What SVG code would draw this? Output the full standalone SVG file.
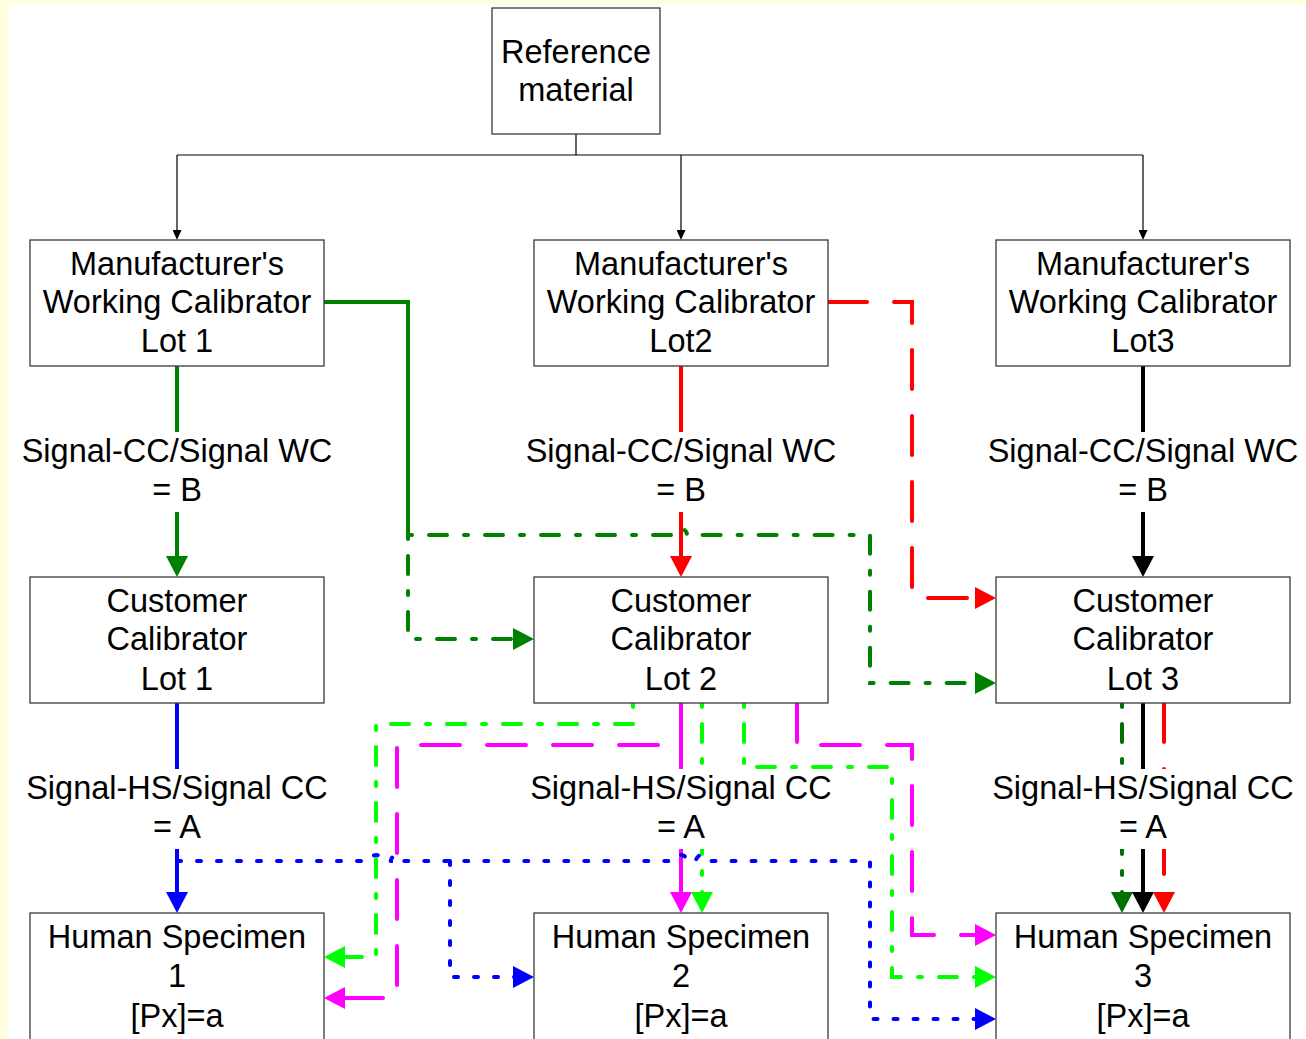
<svg xmlns="http://www.w3.org/2000/svg" width="1306" height="1039" viewBox="0 0 1306 1039">
<defs>
<style>
.box{fill:#fff;stroke:#3a3a3a;stroke-width:1.3}
.t{font-family:"Liberation Sans",Arial,sans-serif;font-size:32.5px;fill:#000;text-anchor:middle}
.lbg{fill:#fff}
.c{fill:none;stroke-width:4}
.thin{fill:none;stroke:#000;stroke-width:1.2}
.dd{stroke-dasharray:4 17 18 17;stroke-linecap:round}
.ld{stroke-dasharray:39 27;stroke-linecap:round}
.dot{stroke-dasharray:4 16;stroke-linecap:round}
.g{stroke:#008000}
.dg{stroke:#007000}
.r{stroke:#ff0000}
.k{stroke:#000}
.b{stroke:#0000ff}
.m{stroke:#ff00ff}
.l{stroke:#00ff00}
</style>
<marker id="aS" markerUnits="userSpaceOnUse" markerWidth="10" markerHeight="9" refX="5" refY="4.5" orient="auto"><path d="M0,0 L10,4.5 L0,9 z" fill="#000"/></marker>
<marker id="aG" markerUnits="userSpaceOnUse" markerWidth="21" markerHeight="22" refX="11" refY="11" orient="auto"><path d="M0,0 L21,11 L0,22 z" fill="#008000"/></marker>
<marker id="aDG" markerUnits="userSpaceOnUse" markerWidth="21" markerHeight="22" refX="11" refY="11" orient="auto"><path d="M0,0 L21,11 L0,22 z" fill="#007000"/></marker>
<marker id="aR" markerUnits="userSpaceOnUse" markerWidth="21" markerHeight="22" refX="11" refY="11" orient="auto"><path d="M0,0 L21,11 L0,22 z" fill="#ff0000"/></marker>
<marker id="aK" markerUnits="userSpaceOnUse" markerWidth="21" markerHeight="22" refX="11" refY="11" orient="auto"><path d="M0,0 L21,11 L0,22 z" fill="#000"/></marker>
<marker id="aB" markerUnits="userSpaceOnUse" markerWidth="21" markerHeight="22" refX="11" refY="11" orient="auto"><path d="M0,0 L21,11 L0,22 z" fill="#0000ff"/></marker>
<marker id="aM" markerUnits="userSpaceOnUse" markerWidth="21" markerHeight="22" refX="11" refY="11" orient="auto"><path d="M0,0 L21,11 L0,22 z" fill="#ff00ff"/></marker>
<marker id="aL" markerUnits="userSpaceOnUse" markerWidth="21" markerHeight="22" refX="11" refY="11" orient="auto"><path d="M0,0 L21,11 L0,22 z" fill="#00ff00"/></marker>
</defs>
<rect x="0" y="0" width="1306" height="1039" fill="#ffffe0"/>
<rect x="8" y="5" width="1298" height="1034" fill="#fff"/>

<g id="connectors">
  <!-- reference to manufacturer's calibrators -->
  <path class="thin" d="M576,134 V155 M177,155 H1143"/>
  <path class="thin" d="M177,155 V235" marker-end="url(#aS)"/>
  <path class="thin" d="M681,155 V235" marker-end="url(#aS)"/>
  <path class="thin" d="M1143,155 V235" marker-end="url(#aS)"/>

  <!-- MWC to CC -->
  <path class="c g" d="M177,366 V567" marker-end="url(#aG)"/>
  <path class="c r" d="M681,366 V567" marker-end="url(#aR)"/>
  <path class="c k" d="M1143,366 V567" marker-end="url(#aK)"/>

  <!-- cross: lot1 green -->
  <path class="c g" d="M324,302 H408 V535"/>
  <path class="c g dd" d="M408,535 H675 a6,6 0 0 1 12,0 H870 V683 H986" marker-end="url(#aG)"/>
  <path class="c g dd" d="M408,535 V639 H524" marker-end="url(#aG)"/>
  <!-- cross: lot2 red -->
  <path class="c r ld" d="M828,302 H912 V598 H986" marker-end="url(#aR)"/>

  <!-- CC to HS -->
  <path class="c b" d="M177,703 V903" marker-end="url(#aB)"/>
  <path class="c m" d="M681,703 V903" marker-end="url(#aM)"/>
  <path class="c l dd" d="M702,703 V903" marker-end="url(#aL)"/>
  <path class="c dg dd" d="M1122,703 V903" marker-end="url(#aDG)"/>
  <path class="c k" d="M1143,703 V903" marker-end="url(#aK)"/>
  <path class="c r ld" d="M1164,703 V903" marker-end="url(#aR)"/>

  <!-- cross: lot2 to HS1 and HS3 -->
  <path class="c l dd" d="M633,703 V724 H376 V957 H334" marker-end="url(#aL)"/>
  <path class="c m ld" d="M658,745 H397 V998 H334" marker-end="url(#aM)"/>
  <path class="c l dd" d="M744,703 V767 H892 V977 H986" marker-end="url(#aL)"/>
  <path class="c m ld" d="M797,703 V745 H912 V935 H986" marker-end="url(#aM)"/>

  <!-- cross: lot1 blue -->
  <path class="c b dot" d="M177,861 H370 a6,6 0 0 1 12,0 H391 a6,6 0 0 1 12,0 H675 a6,6 0 0 1 12,0 H696 a6,6 0 0 1 12,0 H870 V1019 H986" marker-end="url(#aB)"/>
  <path class="c b dot" d="M450,861 V977 H524" marker-end="url(#aB)"/>
</g>

<g id="labels">
  <g id="label-b1"><rect class="lbg" x="17" y="432" width="320" height="80"/><text class="t" x="177" y="462">Signal-CC/Signal WC</text><text class="t" x="177" y="501">= B</text></g>
  <g id="label-b2"><rect class="lbg" x="521" y="432" width="320" height="80"/><text class="t" x="681" y="462">Signal-CC/Signal WC</text><text class="t" x="681" y="501">= B</text></g>
  <g id="label-b3"><rect class="lbg" x="983" y="432" width="320" height="80"/><text class="t" x="1143" y="462">Signal-CC/Signal WC</text><text class="t" x="1143" y="501">= B</text></g>
  <g id="label-a1"><rect class="lbg" x="22" y="769" width="310" height="80"/><text class="t" x="177" y="799">Signal-HS/Signal CC</text><text class="t" x="177" y="838">= A</text></g>
  <g id="label-a2"><rect class="lbg" x="526" y="769" width="310" height="80"/><text class="t" x="681" y="799">Signal-HS/Signal CC</text><text class="t" x="681" y="838">= A</text></g>
  <g id="label-a3"><rect class="lbg" x="988" y="769" width="310" height="80"/><text class="t" x="1143" y="799">Signal-HS/Signal CC</text><text class="t" x="1143" y="838">= A</text></g>
</g>

<g id="ref">
  <rect class="box" x="492" y="8" width="168" height="126"/>
  <text class="t" x="576" y="63">Reference</text>
  <text class="t" x="576" y="101">material</text>
</g>

<g id="mwc1">
  <rect class="box" x="30" y="240" width="294" height="126"/>
  <text class="t" x="177" y="275">Manufacturer's</text>
  <text class="t" x="177" y="313">Working Calibrator</text>
  <text class="t" x="177" y="352">Lot 1</text>
</g>
<g id="mwc2">
  <rect class="box" x="534" y="240" width="294" height="126"/>
  <text class="t" x="681" y="275">Manufacturer's</text>
  <text class="t" x="681" y="313">Working Calibrator</text>
  <text class="t" x="681" y="352">Lot2</text>
</g>
<g id="mwc3">
  <rect class="box" x="996" y="240" width="294" height="126"/>
  <text class="t" x="1143" y="275">Manufacturer's</text>
  <text class="t" x="1143" y="313">Working Calibrator</text>
  <text class="t" x="1143" y="352">Lot3</text>
</g>

<g id="cc1">
  <rect class="box" x="30" y="577" width="294" height="126"/>
  <text class="t" x="177" y="612">Customer</text>
  <text class="t" x="177" y="650">Calibrator</text>
  <text class="t" x="177" y="690">Lot 1</text>
</g>
<g id="cc2">
  <rect class="box" x="534" y="577" width="294" height="126"/>
  <text class="t" x="681" y="612">Customer</text>
  <text class="t" x="681" y="650">Calibrator</text>
  <text class="t" x="681" y="690">Lot 2</text>
</g>
<g id="cc3">
  <rect class="box" x="996" y="577" width="294" height="126"/>
  <text class="t" x="1143" y="612">Customer</text>
  <text class="t" x="1143" y="650">Calibrator</text>
  <text class="t" x="1143" y="690">Lot 3</text>
</g>

<g id="hs1">
  <rect class="box" x="30" y="913" width="294" height="140"/>
  <text class="t" x="177" y="948">Human Specimen</text>
  <text class="t" x="177" y="987">1</text>
  <text class="t" x="177" y="1027">[Px]=a</text>
</g>
<g id="hs2">
  <rect class="box" x="534" y="913" width="294" height="140"/>
  <text class="t" x="681" y="948">Human Specimen</text>
  <text class="t" x="681" y="987">2</text>
  <text class="t" x="681" y="1027">[Px]=a</text>
</g>
<g id="hs3">
  <rect class="box" x="996" y="913" width="294" height="140"/>
  <text class="t" x="1143" y="948">Human Specimen</text>
  <text class="t" x="1143" y="987">3</text>
  <text class="t" x="1143" y="1027">[Px]=a</text>
</g>
</svg>
